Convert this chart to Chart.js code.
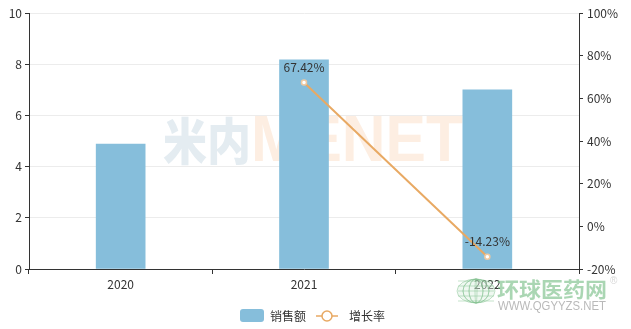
<!DOCTYPE html>
<html>
<head>
<meta charset="utf-8">
<script src="https://cdn.jsdelivr.net/npm/chart.js@4"></script>
<style>
  html, body { margin: 0; padding: 0; background: #fff; }
  #wrap { width: 631px; height: 329px; position: relative; }
</style>
</head>
<body>
<div id="wrap"><canvas id="salesChart"></canvas></div>
<script>
// Data
const years = ['2020', '2021', '2022'];
const sales = [4.88, 8.17, 7.00];
const growth = [null, 67.42, -14.23];
const legendNames = ['销售额', '增长率'];

const COLORS = {
  bar: '#86bedb',
  line: '#e8a963',
  axis: '#333333',
  grid: '#ececec',
  text: '#333333'
};
const FONT = '"Noto Sans CJK SC", "Noto Sans", sans-serif';

// draw text squeezed/stretched to a given box
function fitText(c, txt, x, y, w, h) {
  const m = c.measureText(txt);
  c.save();
  c.translate(x, y);
  c.scale(w / m.width, 1);
  c.fillText(txt, 0, 0);
  c.restore();
}

// Watermarks + value labels + legend
const decorPlugin = {
  id: 'decor',
  beforeDatasetsDraw(chart) {
    const c = chart.ctx;
    c.save();
    c.textBaseline = 'middle';
    c.textAlign = 'left';
    c.font = '900 50px ' + FONT;
    c.fillStyle = '#e4ecf1';
    fitText(c, '米内', 163, 141, 88);
    c.font = 'bold 64px "Liberation Sans", sans-serif';
    c.fillStyle = '#fdeee2';
    fitText(c, 'MENET', 251, 143, 212);
    c.restore();
  },
  afterDatasetsDraw(chart) {
    const c = chart.ctx;
    const meta = chart.getDatasetMeta(0);
    c.save();
    c.font = '12px ' + FONT;
    c.fillStyle = COLORS.text;
    c.textAlign = 'center';
    c.textBaseline = 'middle';
    meta.data.forEach((pt, i) => {
      if (growth[i] === null) return;
      c.fillText(growth[i].toFixed(2) + '%', pt.x, pt.y - 15);
    });
    c.restore();
  },
  afterDraw(chart) {
    const c = chart.ctx;
    c.save();
    // legend
    c.fillStyle = COLORS.bar;
    c.beginPath();
    c.roundRect(240, 309, 24, 13, 3);
    c.fill();
    c.font = '12px ' + FONT;
    c.fillStyle = COLORS.text;
    c.textBaseline = 'middle';
    c.textAlign = 'left';
    c.fillText(legendNames[0], 270, 316);
    c.strokeStyle = COLORS.line;
    c.lineWidth = 1.5;
    c.beginPath();
    c.moveTo(316, 316);
    c.lineTo(338, 316);
    c.stroke();
    c.fillStyle = '#fff';
    c.beginPath();
    c.arc(327, 316, 5, 0, Math.PI * 2);
    c.fill();
    c.stroke();
    c.fillStyle = COLORS.text;
    c.fillText(legendNames[1], 349, 316);

    // site watermark
    c.globalAlpha = 0.45;
    c.strokeStyle = '#7fbf8c';
    c.fillStyle = '#dcefe0';
    c.lineWidth = 1;
    c.beginPath();
    c.ellipse(476, 291, 19, 12, 0, 0, Math.PI * 2);
    c.fill();
    c.stroke();
    for (let k = -2; k <= 2; k++) {
      c.beginPath();
      c.ellipse(476, 291, Math.abs(k) * 6 + 1, 12, 0, 0, Math.PI * 2);
      c.stroke();
      c.beginPath();
      c.moveTo(458, 291 + k * 5);
      c.lineTo(494, 291 + k * 5);
      c.stroke();
    }
    c.globalAlpha = 0.6;
    c.fillStyle = '#72bb80';
    c.font = 'bold 21px ' + FONT;
    c.textAlign = 'left';
    fitText(c, '环球医药网', 497, 289, 110);
    c.fillStyle = '#8a8a8a';
    c.font = '12px "Liberation Sans", sans-serif';
    fitText(c, 'WWW.QGYYZS.NET', 498, 307, 108);
    c.fillStyle = '#bbb';
    c.font = '10px sans-serif';
    c.fillText('®', 610, 281);
    c.restore();
  }
};

const chart = new Chart(document.getElementById('salesChart'), {
  data: {
    labels: years,
    datasets: [
      {
        type: 'line',
        label: legendNames[1],
        data: growth,
        yAxisID: 'y1',
        borderColor: COLORS.line,
        borderWidth: 2,
        pointRadius: 2.5,
        pointBorderWidth: 1.5,
        pointBackgroundColor: '#fff',
        pointBorderColor: '#f0c9a0',
        tension: 0,
        order: 0
      },
      {
        type: 'bar',
        label: legendNames[0],
        data: sales,
        yAxisID: 'y',
        backgroundColor: COLORS.bar,
        barThickness: 49,
        order: 1
      }
    ]
  },
  plugins: [decorPlugin],
  options: {
    responsive: true,
    maintainAspectRatio: false,
    animation: false,
    layout: { padding: { top: 13, left: 0, right: 0, bottom: 0 } },
    plugins: {
      legend: { display: false },
      tooltip: { enabled: false }
    },
    scales: {
      x: {
        offset: true,
        grid: {
          offset: true,
          drawOnChartArea: false,
          tickLength: 5,
          tickColor: COLORS.axis
        },
        border: { color: COLORS.axis, width: 1 },
        ticks: {
          color: COLORS.text,
          font: { family: FONT, size: 12 },
          padding: 3
        },
        afterFit(scale) { scale.height = 60; }
      },
      y: {
        position: 'left',
        min: 0,
        max: 10,
        grid: {
          color: COLORS.grid,
          tickLength: 4,
          tickColor: COLORS.axis
        },
        border: { color: COLORS.axis, width: 1 },
        ticks: {
          stepSize: 2,
          color: COLORS.text,
          font: { family: FONT, size: 12 },
          padding: 3
        },
        afterFit(scale) { scale.width = 29; }
      },
      y1: {
        position: 'right',
        min: -20,
        max: 100,
        grid: {
          drawOnChartArea: false,
          tickLength: 4,
          tickColor: COLORS.axis
        },
        border: { color: COLORS.axis, width: 1 },
        ticks: {
          stepSize: 20,
          color: COLORS.text,
          font: { family: FONT, size: 12 },
          padding: 4,
          callback: v => v + '%'
        },
        afterFit(scale) { scale.width = 52; }
      }
    }
  }
});
</script>
</body>
</html>
